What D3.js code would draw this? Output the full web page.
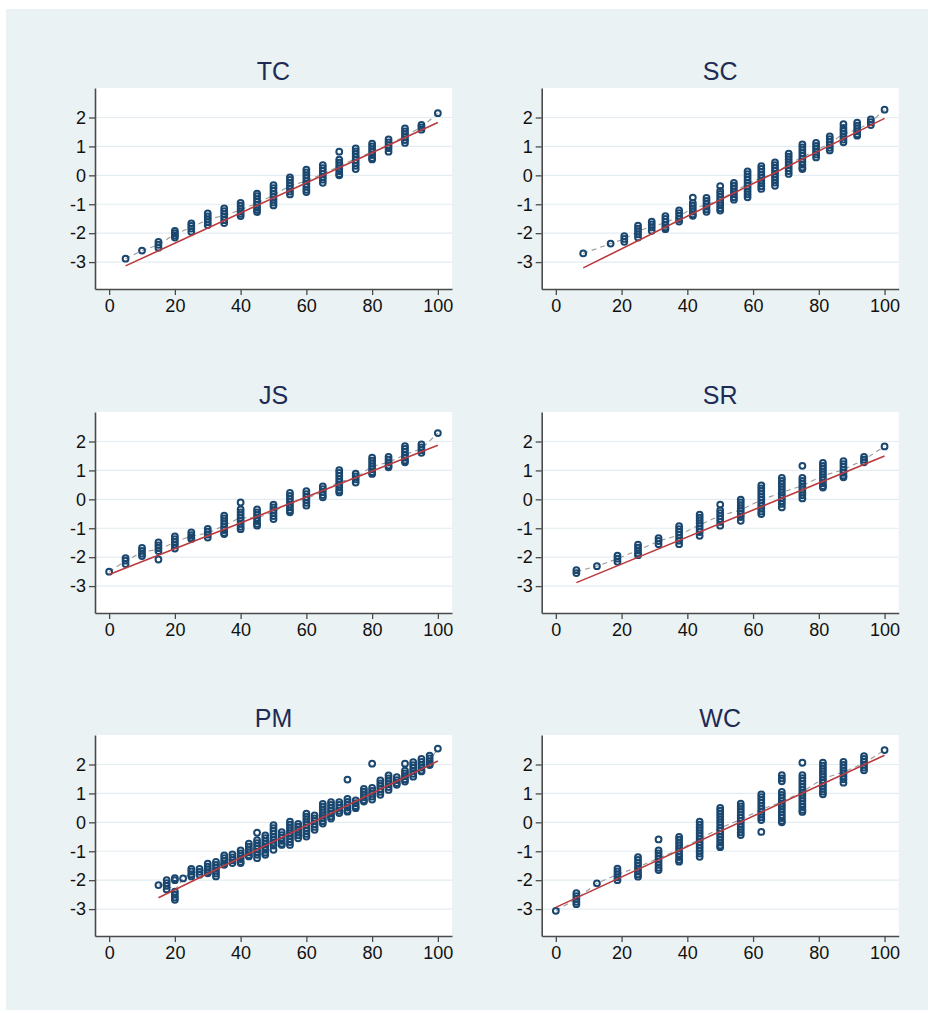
<!DOCTYPE html>
<html>
<head>
<meta charset="utf-8">
<script src="https://cdnjs.cloudflare.com/ajax/libs/d3/7.8.5/d3.min.js"></script>
<style>
  body { margin: 0; background: #fff; }
  text { font-family: "Liberation Sans", Arial, Helvetica, sans-serif; }
</style>
</head>
<body>
<div id="chart"></div>
<script>
// percentile (x) positions and normal scores (y) for each panel
var tcX = [5, 10, 15, 20, 25, 30, 35, 40, 45, 50, 55, 60, 65, 70, 75, 80, 85, 90, 95, 100];
var tcY = [
  [-2.88], [-2.6], [-2.3, -2.4, -2.5], [-1.92, -2.0, -2.08, -2.15], [-1.66, -1.75, -1.84, -1.95],
  [-1.32, -1.42, -1.52, -1.62, -1.72], [-1.14, -1.24, -1.34, -1.44, -1.55, -1.65],
  [-0.95, -1.05, -1.15, -1.25, -1.33, -1.41], [-0.63, -0.72, -0.82, -0.92, -1.02, -1.12, -1.2, -1.27],
  [-0.34, -0.44, -0.54, -0.64, -0.74, -0.84, -0.94, -1.04], [-0.07, -0.16, -0.26, -0.36, -0.46, -0.56, -0.66],
  [0.2, 0.1, 0.0, -0.1, -0.2, -0.3, -0.4, -0.5, -0.58], [0.35, 0.25, 0.15, 0.05, -0.05, -0.15, -0.26],
  [0.82, 0.54, 0.44, 0.34, 0.24, 0.14, 0.04, 0.0], [0.93, 0.83, 0.73, 0.63, 0.53, 0.43, 0.33, 0.22],
  [1.1, 1.0, 0.9, 0.8, 0.7, 0.6, 0.55], [1.24, 1.14, 1.04, 0.94, 0.82],
  [1.62, 1.52, 1.42, 1.32, 1.22, 1.12], [1.74, 1.66, 1.58], [2.15]
];
var tcFit = [[5, -3.13], [100, 1.83]];

var scX = [8.33, 16.67, 20.83, 25, 29.17, 33.33, 37.5, 41.67, 45.83, 50, 54.17, 58.33, 62.5, 66.67, 70.83, 75, 79.17, 83.33, 87.5, 91.67, 95.83, 100];
var scY = [
  [-2.7], [-2.36], [-2.1, -2.2, -2.3], [-1.74, -1.84, -1.94, -2.04, -2.15], [-1.6, -1.7, -1.8, -1.92],
  [-1.41, -1.51, -1.61, -1.71, -1.8, -1.86], [-1.21, -1.31, -1.41, -1.51, -1.6],
  [-0.77, -0.95, -1.05, -1.15, -1.25, -1.35, -1.4], [-0.78, -0.88, -0.98, -1.08, -1.18, -1.26],
  [-0.37, -0.54, -0.64, -0.74, -0.84, -0.94, -1.04, -1.14, -1.22], [-0.26, -0.36, -0.46, -0.56, -0.66, -0.76, -0.84],
  [0.14, 0.04, -0.06, -0.16, -0.26, -0.36, -0.46, -0.56, -0.66, -0.76], [0.32, 0.22, 0.12, 0.02, -0.08, -0.18, -0.28, -0.38, -0.47],
  [0.45, 0.35, 0.25, 0.15, 0.05, -0.05, -0.15, -0.25, -0.36], [0.75, 0.65, 0.55, 0.45, 0.35, 0.25, 0.15, 0.05],
  [1.07, 0.97, 0.87, 0.77, 0.67, 0.57, 0.47, 0.37, 0.27, 0.22], [1.12, 1.02, 0.92, 0.82, 0.72, 0.62],
  [1.35, 1.25, 1.15, 1.05, 0.95, 0.86], [1.77, 1.64, 1.54, 1.44, 1.34, 1.24, 1.14],
  [1.82, 1.72, 1.62, 1.52, 1.42, 1.37], [1.93, 1.84, 1.74], [2.27]
];
var scFit = [[8.33, -3.2], [100, 1.97]];

var jsX = [0, 5, 10, 15, 20, 25, 30, 35, 40, 45, 50, 55, 60, 65, 70, 75, 80, 85, 90, 95, 100];
var jsY = [
  [-2.5], [-2.03, -2.12, -2.24], [-1.68, -1.78, -1.88, -1.96], [-1.49, -1.59, -1.69, -1.79, -2.08],
  [-1.28, -1.38, -1.48, -1.58, -1.7], [-1.14, -1.24, -1.32, -1.37], [-1.02, -1.12, -1.22, -1.32],
  [-0.56, -0.66, -0.76, -0.86, -0.96, -1.06, -1.16, -1.2], [-0.11, -0.35, -0.45, -0.55, -0.65, -0.75, -0.85, -0.95, -1.03],
  [-0.35, -0.45, -0.55, -0.65, -0.75, -0.85, -0.91], [-0.18, -0.28, -0.38, -0.48, -0.58, -0.68],
  [0.22, 0.12, 0.02, -0.08, -0.18, -0.28, -0.38, -0.45], [0.28, 0.18, 0.08, -0.02, -0.12, -0.22],
  [0.45, 0.35, 0.25, 0.15, 0.07], [1.01, 0.91, 0.81, 0.71, 0.61, 0.51, 0.41, 0.31, 0.24],
  [0.89, 0.79, 0.69, 0.58], [1.44, 1.34, 1.24, 1.14, 1.04, 0.94, 0.88], [1.47, 1.37, 1.27, 1.17, 1.11],
  [1.84, 1.74, 1.64, 1.54, 1.44, 1.34, 1.28], [1.9, 1.8, 1.7, 1.61], [2.29]
];
var jsFit = [[0, -2.6], [100, 1.87]];

var srX = [6.25, 12.5, 18.75, 25, 31.25, 37.5, 43.75, 50, 56.25, 62.5, 68.75, 75, 81.25, 87.5, 93.75, 100];
var srY = [
  [-2.45, -2.55], [-2.31], [-1.95, -2.05, -2.16], [-1.57, -1.67, -1.77, -1.87, -1.93], [-1.34, -1.44, -1.55],
  [-0.93, -1.03, -1.13, -1.23, -1.33, -1.43, -1.55], [-0.53, -0.63, -0.73, -0.83, -0.93, -1.03, -1.13, -1.26],
  [-0.18, -0.38, -0.48, -0.58, -0.68, -0.78, -0.91], [-0.01, -0.11, -0.21, -0.31, -0.41, -0.51, -0.61, -0.74],
  [0.48, 0.38, 0.28, 0.18, 0.08, -0.02, -0.12, -0.22, -0.32, -0.42, -0.51],
  [0.74, 0.64, 0.54, 0.44, 0.34, 0.24, 0.14, 0.04, -0.06, -0.16, -0.28],
  [1.16, 0.74, 0.64, 0.54, 0.44, 0.34, 0.24, 0.14, 0.03],
  [1.26, 1.16, 1.06, 0.96, 0.86, 0.76, 0.66, 0.56, 0.46, 0.41],
  [1.32, 1.22, 1.12, 1.02, 0.92, 0.82, 0.76], [1.47, 1.37, 1.28], [1.83]
];
var srFit = [[6.25, -2.88], [100, 1.5]];

var pmX = [15, 17.5, 20, 22.5, 25, 27.5, 30, 32.5, 35, 37.5, 40, 42.5, 45, 47.5, 50, 52.5, 55, 57.5, 60, 62.5, 65, 67.5, 70, 72.5, 75, 77.5, 80, 82.5, 85, 87.5, 90, 92.5, 95, 97.5, 100];
var pmY = [
  [-2.17], [-2.0, -2.1, -2.2, -2.32], [-1.93, -2.0, -2.4, -2.5, -2.6, -2.68], [-1.94],
  [-1.61, -1.7, -1.8, -1.87], [-1.61, -1.71, -1.81], [-1.43, -1.53, -1.63, -1.73, -1.76],
  [-1.37, -1.47, -1.57, -1.67, -1.77, -1.87], [-1.14, -1.24, -1.34, -1.44, -1.47], [-1.11, -1.21, -1.31, -1.41],
  [-0.97, -1.07, -1.17, -1.27, -1.37, -1.41], [-0.74, -0.84, -0.94, -1.04, -1.14, -1.18],
  [-0.36, -0.62, -0.72, -0.82, -0.92, -1.02, -1.12, -1.24], [-0.45, -0.55, -0.65, -0.75, -0.85, -0.95, -1.05, -1.12],
  [-0.1, -0.2, -0.3, -0.4, -0.5, -0.6, -0.7, -0.8, -0.95], [-0.34, -0.44, -0.54, -0.64, -0.74, -0.78],
  [0.02, -0.08, -0.18, -0.28, -0.38, -0.48, -0.58, -0.68, -0.78], [-0.05, -0.15, -0.25, -0.35, -0.45, -0.55],
  [0.3, 0.2, 0.1, 0.0, -0.1, -0.2, -0.3, -0.4, -0.49], [0.24, 0.14, 0.04, -0.06, -0.16, -0.26],
  [0.64, 0.54, 0.44, 0.34, 0.24, 0.14, 0.04, -0.04], [0.7, 0.6, 0.5, 0.4, 0.3, 0.2, 0.13],
  [0.7, 0.6, 0.5, 0.4, 0.32], [1.48, 0.81, 0.71, 0.61, 0.51, 0.41, 0.37], [0.76, 0.66, 0.56, 0.49],
  [1.16, 1.06, 0.96, 0.86, 0.76, 0.72], [2.03, 1.19, 1.09, 0.99, 0.89, 0.79],
  [1.45, 1.35, 1.25, 1.15, 1.05, 0.95], [1.62, 1.52, 1.42, 1.32, 1.22, 1.12], [1.56, 1.46, 1.36, 1.3],
  [2.03, 1.79, 1.69, 1.59, 1.49, 1.41], [2.08, 1.98, 1.88, 1.78, 1.68, 1.58],
  [2.19, 2.09, 1.99, 1.89, 1.79, 1.76], [2.31, 2.21, 2.11, 2.01, 1.98], [2.55]
];
var pmFit = [[15, -2.61], [100, 2.12]];

var wcX = [0, 6.25, 12.5, 18.75, 25, 31.25, 37.5, 43.75, 50, 56.25, 62.5, 68.75, 75, 81.25, 87.5, 93.75, 100];
var wcY = [
  [-3.06], [-2.45, -2.55, -2.65, -2.75, -2.83], [-2.11], [-1.6, -1.7, -1.8, -1.9, -2.0],
  [-1.2, -1.3, -1.4, -1.5, -1.6, -1.7, -1.8, -1.88],
  [-0.59, -0.97, -1.07, -1.17, -1.27, -1.37, -1.47, -1.57, -1.65],
  [-0.5, -0.6, -0.7, -0.8, -0.9, -1.0, -1.1, -1.2, -1.3, -1.36],
  [0.02, -0.08, -0.18, -0.28, -0.38, -0.48, -0.58, -0.68, -0.78, -0.88, -0.98, -1.08, -1.19],
  [0.5, 0.4, 0.3, 0.2, 0.1, 0.0, -0.1, -0.2, -0.3, -0.4, -0.5, -0.6, -0.7, -0.8, -0.86],
  [0.65, 0.55, 0.45, 0.35, 0.25, 0.15, 0.05, -0.05, -0.15, -0.25, -0.35, -0.44],
  [0.97, 0.87, 0.77, 0.67, 0.57, 0.47, 0.37, 0.27, 0.17, 0.08, -0.33],
  [1.63, 1.52, 1.42, 1.05, 0.95, 0.85, 0.75, 0.65, 0.55, 0.45, 0.35, 0.25, 0.15, 0.05, 0.0],
  [2.06, 1.63, 1.53, 1.43, 1.33, 1.23, 1.13, 1.03, 0.93, 0.83, 0.73, 0.63, 0.53, 0.43, 0.36],
  [2.06, 1.96, 1.86, 1.76, 1.66, 1.56, 1.46, 1.36, 1.26, 1.16, 1.06, 0.97],
  [2.09, 1.99, 1.89, 1.79, 1.69, 1.59, 1.49, 1.37], [2.29, 2.19, 2.09, 1.99, 1.89, 1.8], [2.5]
];
var wcFit = [[0, -2.94], [100, 2.32]];

var xTicks = [0, 20, 40, 60, 80, 100];
var yTicks = [2, 1, 0, -1, -2, -3];

var panels = [
  { title: 'TC', xs: tcX, ys: tcY, fit: tcFit },
  { title: 'SC', xs: scX, ys: scY, fit: scFit },
  { title: 'JS', xs: jsX, ys: jsY, fit: jsFit },
  { title: 'SR', xs: srX, ys: srY, fit: srFit },
  { title: 'PM', xs: pmX, ys: pmY, fit: pmFit },
  { title: 'WC', xs: wcX, ys: wcY, fit: wcFit }
];

var width = 928, height = 1013;
var plotW = 357, plotH = 201;
var colLeft = [95, 541.7];
var rowTop = [88, 412, 735];

var svg = d3.select('#chart').append('svg')
  .attr('width', width)
  .attr('height', height);

// light blue-grey graph region
svg.append('rect')
  .attr('x', 6).attr('y', 9)
  .attr('width', 922).attr('height', 1001)
  .attr('fill', '#eaf2f3');

var x = d3.scaleLinear().domain([-4.3, 104.3]).range([0, plotW]);
var y = d3.scaleLinear().domain([-3.93, 3.02]).range([plotH, 0]);

panels.forEach(function(p, i) {
  var g = svg.append('g')
    .attr('transform', 'translate(' + colLeft[i % 2] + ',' + rowTop[Math.floor(i / 2)] + ')');

  g.append('rect')
    .attr('width', plotW).attr('height', plotH)
    .attr('fill', '#fff');

  // horizontal grid
  g.selectAll('.grid')
    .data(yTicks)
    .enter().append('line')
      .attr('class', 'grid')
      .attr('x1', 0).attr('x2', plotW)
      .attr('y1', function(d) { return y(d); })
      .attr('y2', function(d) { return y(d); })
      .attr('stroke', '#e3ecf1')
      .attr('stroke-width', 1.2);

  g.append('text')
    .attr('x', plotW / 2)
    .attr('y', -8)
    .attr('text-anchor', 'middle')
    .attr('font-size', '25px')
    .attr('fill', '#1e2b55')
    .text(p.title);

  // flatten clusters into points
  var pts = [];
  p.xs.forEach(function(xv, k) {
    p.ys[k].forEach(function(yv) { pts.push([xv, yv]); });
  });

  // dashed line through cluster means
  var means = p.xs.map(function(xv, k) { return [xv, d3.mean(p.ys[k])]; });
  var line = d3.line()
    .x(function(d) { return x(d[0]); })
    .y(function(d) { return y(d[1]); });

  g.append('path')
    .attr('d', line(means))
    .attr('fill', 'none')
    .attr('stroke', '#9a9a9a')
    .attr('stroke-width', 1.1)
    .attr('stroke-dasharray', '5,4');

  g.selectAll('.pt')
    .data(pts)
    .enter().append('circle')
      .attr('class', 'pt')
      .attr('cx', function(d) { return x(d[0]); })
      .attr('cy', function(d) { return y(d[1]); })
      .attr('r', 2.9)
      .attr('fill', 'none')
      .attr('stroke', '#1a476f')
      .attr('stroke-width', 2);

  g.append('path')
    .attr('d', line(p.fit))
    .attr('fill', 'none')
    .attr('stroke', '#bb3a3e')
    .attr('stroke-width', 1.6);

  var xAxis = d3.axisBottom(x).tickValues(xTicks).tickSize(6).tickPadding(4).tickSizeOuter(0);
  var yAxis = d3.axisLeft(y).tickValues(yTicks).tickSize(6).tickPadding(3).tickSizeOuter(0)
    .tickFormat(d3.format('d'));

  var gx = g.append('g')
    .attr('transform', 'translate(0,' + plotH + ')')
    .call(xAxis);
  var gy = g.append('g').call(yAxis);

  [gx, gy].forEach(function(a) {
    a.select('.domain').attr('stroke', '#4a4a4a').attr('stroke-width', 1.6);
    a.selectAll('.tick line').attr('stroke', '#4a4a4a').attr('stroke-width', 1.3);
    a.selectAll('.tick text')
      .attr('font-size', '18px')
      .attr('fill', '#111')
      .style('font-family', '"Liberation Sans", Arial, sans-serif');
  });
  // hyphen-style minus like the original
  gy.selectAll('.tick text').text(function(d) { return String(d); });
});
</script>
</body>
</html>
